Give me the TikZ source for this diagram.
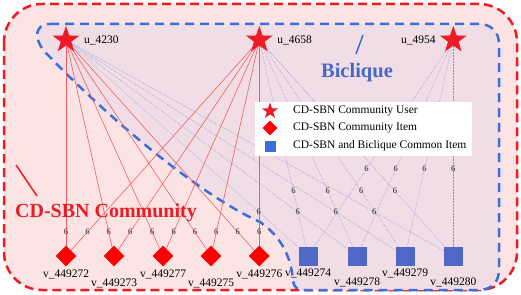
\documentclass[tikz,border=0pt]{standalone}
\usepackage{fontspec}
\setmainfont{Liberation Serif}
\newfontfamily\timesfont{Liberation Serif}
\usetikzlibrary{shapes.geometric,backgrounds,positioning}
\definecolor{cdred}{RGB}{237,28,36}
\definecolor{cdpink}{RGB}{253,228,228}
\definecolor{bipink}{RGB}{240,221,229}
\definecolor{biblue}{RGB}{61,111,219}
\definecolor{sqblue}{RGB}{80,104,198}
\definecolor{txtblue}{RGB}{72,104,200}
\definecolor{redline}{RGB}{240,95,95}
\definecolor{blueline}{RGB}{125,142,222}
\tikzset{
	user/.style={star, star points=5, star point ratio=2.5, fill=cdred, inner sep=0pt, minimum size=28pt},
	citem/.style={diamond, fill=red, inner sep=0pt, minimum size=21pt},
	bitem/.style={rectangle, fill=sqblue, inner sep=0pt, minimum size=19pt},
	redge/.style={redline, line width=0.6pt},
	bedge/.style={blueline, line width=0.5pt, densely dotted},
	wt/.style={font=\timesfont\fontsize{8.5}{9}\selectfont, text=black!85, inner sep=0.5pt},
	lbl/.style={font=\timesfont\fontsize{11.5}{12}\selectfont, text=black, inner sep=1pt},
	up/.style={label={[lbl, label distance=1.5pt]below:#1}},
	lo/.style={label={[lbl, label distance=10.5pt]below:#1}}
}
\begin{document}
\begin{tikzpicture}[x=1pt, y=-1pt]
	\useasboundingbox (0,0) rectangle (521,294);
	% users
	\node[user, label={[lbl, label distance=9pt]right:u\_4230}] (u4230) at (66,40) {};
	\node[user, label={[lbl, label distance=9pt]right:u\_4658}] (u4658) at (259.3,40) {};
	\node[user, label={[lbl, label distance=8.5pt]left:u\_4954}] (u4954) at (453.3,40) {};
	% community items
	\node[citem, up=v\_449272] (v449272) at (66,256) {};
	\node[citem, lo=v\_449273] (v449273) at (114,256) {};
	\node[citem, up=v\_449277] (v449277) at (163,256) {};
	\node[citem, lo=v\_449275] (v449275) at (211,256) {};
	\node[citem, up=v\_449276] (v449276) at (259.3,256) {};
	% common items
	\node[bitem, up=v\_449274] (v449274) at (308,256) {};
	\node[bitem, lo=v\_449278] (v449278) at (357,256) {};
	\node[bitem, up=v\_449279] (v449279) at (405,256) {};
	\node[bitem, lo=v\_449280] (v449280) at (453.3,256) {};
	\begin{scope}[on background layer]
		\draw[cdred, line width=2.5pt, dash pattern=on 9pt off 5pt, fill=cdpink, rounded corners=38pt]
		(4,4) rectangle (517,290);
		\draw[biblue, line width=2.5pt, dash pattern=on 9pt off 6pt, fill=bipink]
		(50,24) -- (479,24) .. controls (491,24) and (499,32) .. (499,44)
		-- (499,270) .. controls (499,282) and (491,290) .. (479,290)
		-- (305,290) .. controls (297,290) and (294,288) .. (293,280)
		.. controls (291,258) and (282,237) .. (260,222)
		.. controls (200,195) and (110,120) .. (45,52)
		.. controls (33,38) and (35,24) .. (50,24) -- cycle;
		\foreach \v in {v449272,v449273,v449277,v449275,v449276}{
			\draw[redge] (u4230.center) -- (\v.center) node[wt, pos=0.889]{6};
			\draw[redge] (u4658.center) -- (\v.center) node[wt, pos=0.889]{6};
		}
		\foreach \v in {v449274,v449278,v449279,v449280}{
			\draw[bedge] (u4230.center) -- (\v.center) node[wt, pos=0.796]{6};
			\draw[bedge] (u4658.center) -- (\v.center) node[wt, pos=0.70]{6};
			\draw[bedge] (u4954.center) -- (\v.center) node[wt, pos=0.597]{6};
		}
	\end{scope}
	% group names
	\node[font=\timesfont\bfseries\fontsize{20}{20}\selectfont, text=cdred] (cdname) at (106,213) {CD-SBN Community};
	\draw[cdred, line width=1.5pt] (16,165) -- (37,196);
	\node[font=\timesfont\bfseries\fontsize{20.5}{20}\selectfont, text=txtblue] (biname) at (357,73) {Biclique};
	\draw[txtblue, line width=1.5pt] (363,35) -- (356,54);
	% legend
	\node[fill=white, inner sep=0pt, minimum width=217pt, minimum height=54pt, anchor=north west] (legend) at (255,102) {};
	\node[user, minimum size=17pt] (luser) at (270,111) {};
	\node[lbl, right=22pt of luser.center] (tuser) {CD-SBN Community User};
	\node[citem, minimum size=15pt] (litem) at (270,128) {};
	\node[lbl, right=22pt of litem.center] (titem) {CD-SBN Community Item};
	\node[bitem, fill=biblue, minimum size=11pt] (lcommon) at (270,146) {};
	\node[lbl, right=22pt of lcommon.center] (tcommon) {CD-SBN and Biclique Common Item};
\end{tikzpicture}
\end{document}
